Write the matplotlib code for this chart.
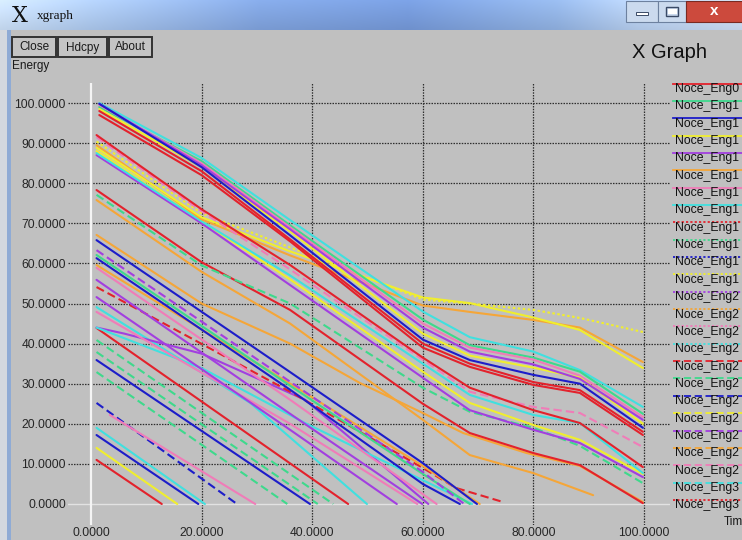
import matplotlib
matplotlib.use("Agg")
import matplotlib.pyplot as plt
import numpy as np
from matplotlib.patches import Rectangle
from matplotlib.colors import to_rgb

# ---------------- data ----------------
x_ticks = [0, 20, 40, 60, 80, 100]
y_ticks = [0, 10, 20, 30, 40, 50, 60, 70, 80, 90, 100]

# top bundle (start near 100)
top_x      = [1.5, 20, 36, 60, 68.5, 80, 88.4, 99.8]
top_cyan   = [100.0, 86.3, 70.8, 48.0, 41.6, 38.0, 33.4, 24.2]
top_green  = [99.0, 85.5, 69.5, 46.0, 39.6, 36.5, 33.0, 22.5]
top_pink   = [99.5, 85.0, 69.0, 45.0, 39.0, 36.0, 32.0, 21.7]
top_purple = [99.8, 84.5, 68.5, 44.0, 38.0, 34.8, 31.2, 21.0]
top_yellow = [98.5, 84.0, 68.0, 42.5, 37.0, 34.0, 31.5, 20.0]
top_blue   = [99.8, 84.0, 67.0, 41.0, 35.9, 32.2, 30.0, 19.0]
top_red_a  = [98.0, 83.0, 66.0, 40.0, 35.0, 30.4, 28.4, 18.0]
top_red_b  = [97.0, 82.0, 65.5, 39.0, 34.2, 29.7, 27.7, 17.2]

# second bundle (start 77-92), reaching x = 100
mid_x        = [1, 20, 36, 60, 68.5, 80, 88.4, 99.8]
mid_red      = [92.0, 73.5, 59.6, 36.5, 29.0, 23.4, 20.2, 9.2]
mid_pink     = [91.5, 73.0, 58.5, 36.0, 28.0, 24.2, 22.7, 14.2]
mid_yellow_a = [90.4, 72.5, 64.0, 51.0, 50.0, 48.4, 46.4, 42.9]
mid_orange   = [89.5, 71.0, 62.0, 49.5, 47.9, 45.9, 44.0, 35.4]
mid_yellow_b = [88.8, 71.5, 63.0, 51.5, 50.1, 46.5, 43.4, 33.9]
mid_cyan     = [87.5, 70.5, 57.0, 35.0, 27.2, 22.2, 20.2, 7.7]
mid_purple   = [87.0, 70.0, 54.6, 31.5, 23.4, 18.5, 15.2, 6.7]
mid_yellow_c = [88.0, 70.5, 56.0, 33.0, 25.2, 19.7, 16.0, 7.5]
mid_green    = [77.1, 59.5, 50.0, 29.0, 23.0, 19.0, 14.5, 5.2]
mid_red_low  = [78.3, 60.3, 48.4, 25.0, 17.7, 12.7, 9.7, 0.2]

# individual lines
c3_x, c3_y = [1, 20, 36, 60, 68.5, 80, 90.8], [75.8, 57.9, 45.0, 21.0, 12.2, 7.7, 2.2]
d1_x, d1_y = [1, 20, 36, 48.6, 60, 67.3, 78.8, 88.4, 99.8], [67.1, 50.0, 40.0, 30.2, 22.7, 17.7, 12.7, 9.5, 0.5]
d7_x, d7_y = [1, 36, 60, 70.3], [59.6, 30.0, 9.5, 0.0]
d3_x, d3_y = [1, 36, 60, 69.8], [65.8, 32.9, 10.2, 0.0]
d4_x, d4_y = [1, 36, 60, 67.5], [63.3, 30.5, 8.0, 0.0]
d5_x, d5_y = [1, 36, 60, 68.5], [62.1, 29.5, 7.5, 0.0]
d6_x, d6_y = [1, 36, 60, 66.7], [61.3, 28.5, 5.0, 0.0]
d8_x, d8_y = [1, 36, 62.5], [58.9, 26.0, 0.0]
d9_x, d9_y = [1, 36, 59.9], [55.9, 22.5, 0.0]
d10_x, d10_y = [1, 36, 60, 66, 74.5], [54.1, 28.0, 9.0, 4.0, 0.5]
e1_x, e1_y = [1, 36, 55.3], [51.6, 18.5, 0.0]
e2_x, e2_y = [1, 36, 59], [47.9, 20.0, 0.0]
e3_x, e3_y = [1, 20, 38.7, 68.9], [44.0, 33.9, 20.2, 0.0]
e4_x, e4_y = [1, 6, 20, 38.7, 61], [44.0, 42.5, 37.5, 26.0, 0.0]
e5_x, e5_y = [1, 28.8, 49.9], [49.1, 25.2, 0.0]

# short straight lines at the bottom-left (start -> 0)
low_x0 = [1, 1, 1, 1, 1, 1, 3.4, 1, 1, 1, 1]
low_y0 = [43.9, 40.9, 37.9, 35.9, 32.9, 25.2, 22.2, 19.0, 17.2, 14.0, 11.0]
low_x1 = [46.5, 43.8, 41.0, 39.6, 35.5, 26.4, 29.7, 20.6, 19.4, 15.6, 12.8]

# legend labels as visible in the (narrow) window
legend_labels = ["Noce_Eng0"] + ["Noce_Eng1"] * 11 + ["Noce_Eng2"] * 11 + ["Noce_Eng3"] * 2

# ---------------- styles ----------------
RED, GREEN, BLUE, YELLOW = '#e3222c', '#3ed98c', '#1d1dc9', '#f0ee2e'
PURPLE, ORANGE, PINK, CYAN = '#a23fe0', '#f5a638', '#f07cb8', '#40e0df'
PALETTE = [RED, GREEN, BLUE, YELLOW, PURPLE, ORANGE, PINK, CYAN]
SOLID, DASH, DOT = '-', (0, (4, 2)), (0, (1.2, 1.2))

W, H = 742, 540
fig = plt.figure(figsize=(W / 100, H / 100), dpi=100)
fig.patch.set_facecolor('#c0c0c0')
FONT = ['Liberation Sans', 'DejaVu Sans']

# main plot axes: px 68..670 horizontally, py 83..525 vertically
ax = fig.add_axes([68 / W, 1 - 525 / H, (670 - 68) / W, (525 - 83) / H])
ax.set_facecolor('none')
ax.set_xlim((68 - 91) / 5.53, (670 - 91) / 5.53)
ax.set_ylim((504 - 525) / 4.01, (504 - 83) / 4.01)
for s in ax.spines.values():
    s.set_visible(False)

for yv in y_ticks[1:]:
    ax.axhline(yv, color='#2e2e2e', lw=0.9, ls=(0, (1.2, 1.0)), zorder=1)
for xv in x_ticks[1:]:
    ax.axvline(xv, color='#2e2e2e', lw=0.9, ls=(0, (1.2, 1.0)), zorder=1)
ax.axhline(0, color='#e2e2e2', lw=1.0, zorder=1)
ax.axvline(0, color='#f4f4f4', lw=1.6, zorder=1)

ax.set_xticks(x_ticks)
ax.set_xticklabels(["%.4f" % v for v in x_ticks])
ax.set_yticks(y_ticks)
ax.set_yticklabels(["%.4f" % v for v in y_ticks])
ax.tick_params(length=0, pad=1.6, labelsize=8.7, labelcolor='#262626')
for lab in ax.get_xticklabels() + ax.get_yticklabels():
    lab.set_family(FONT)

series = []
for (lx0, ly0, lx1, c, ls) in zip(low_x0, low_y0, low_x1,
                                  [RED, GREEN, GREEN, BLUE, GREEN, BLUE, PINK, CYAN, BLUE, YELLOW, RED],
                                  [SOLID, DASH, DASH, SOLID, DASH, DASH, SOLID, SOLID, SOLID, SOLID, SOLID]):
    series.append(([lx0, lx1], [ly0, 0.0], c, ls))
series += [
    (e5_x, e5_y, CYAN, SOLID), (e4_x, e4_y, PURPLE, SOLID), (e3_x, e3_y, CYAN, SOLID),
    (e2_x, e2_y, PINK, SOLID), (e1_x, e1_y, PURPLE, SOLID),
    (d10_x, d10_y, RED, DASH), (d9_x, d9_y, PURPLE, SOLID), (d8_x, d8_y, PINK, SOLID),
    (d7_x, d7_y, ORANGE, SOLID), (d6_x, d6_y, BLUE, SOLID), (d5_x, d5_y, GREEN, SOLID),
    (d4_x, d4_y, PURPLE, DASH), (d3_x, d3_y, BLUE, SOLID),
    (d1_x, d1_y, ORANGE, SOLID), (c3_x, c3_y, ORANGE, SOLID),
    (mid_x, mid_red_low, RED, SOLID), (mid_x, mid_green, GREEN, DASH),
    (mid_x, mid_yellow_c, YELLOW, SOLID), (mid_x, mid_purple, PURPLE, SOLID),
    (mid_x, mid_cyan, CYAN, SOLID), (mid_x, mid_orange, ORANGE, SOLID),
    (mid_x, mid_yellow_b, YELLOW, SOLID), (mid_x, mid_yellow_a, YELLOW, DOT),
    (mid_x, mid_pink, PINK, DASH), (mid_x, mid_red, RED, SOLID),
    (top_x, top_cyan, CYAN, SOLID), (top_x, top_green, GREEN, SOLID),
    (top_x, top_pink, PINK, SOLID), (top_x, top_yellow, YELLOW, SOLID),
    (top_x, top_purple, PURPLE, SOLID), (top_x, top_blue, BLUE, SOLID),
    (top_x, top_red_a, RED, SOLID), (top_x, top_red_b, RED, SOLID),
]
for sx, sy, c, ls in series:
    ax.plot(sx, sy, color=c, lw=1.5, ls=ls, zorder=2, solid_capstyle='round')

# ---------------- window chrome / overlay in pixel coordinates ----------------
ov = fig.add_axes([0, 0, 1, 1], zorder=5)
ov.set_facecolor('none')
ov.axis('off')

def grad(stops, n):
    pos = [p for p, _ in stops]
    cols = np.array([to_rgb(c) for _, c in stops])
    t = np.linspace(0, 1, n)
    return np.stack([np.interp(t, pos, cols[:, k]) for k in range(3)], axis=-1)

row = grad([(0, '#c6daf1'), (0.12, '#a9c4e8'), (0.35, '#7d9fd8'), (0.55, '#7295d3'),
            (0.75, '#8eaedd'), (0.86, '#b3cae9'), (1, '#c8d8ef')], 742)
vert = np.linspace(1.1, 0.97, 30)[:, None, None]
img = np.clip(row[None, :, :] * vert, 0, 1)
ov.imshow(img, extent=(0, 742, 30, 0), aspect='auto', zorder=0)

# left window edge
ov.add_patch(Rectangle((0, 30), 7, 510, facecolor='#d3d8df', edgecolor='none'))
ov.add_patch(Rectangle((7, 30), 4, 510, facecolor='#8fabd5', edgecolor='none'))

ov.text(12, 16, "X", fontsize=16, family=['DejaVu Serif'], va='center', ha='left', color='#111111')
ov.text(37, 16, "xgraph", fontsize=9.5, family=['Liberation Serif', 'DejaVu Serif'],
        va='center', ha='left', color='#111111')

# caption buttons
ov.add_patch(Rectangle((626, 1), 32, 21, facecolor='#cbdaee', edgecolor='#6d819f', lw=0.8))
ov.add_patch(Rectangle((636, 12), 12, 3, facecolor='#ffffff', edgecolor='#3a4a66', lw=0.7))
ov.add_patch(Rectangle((658, 1), 28, 21, facecolor='#cbdaee', edgecolor='#6d819f', lw=0.8))
ov.add_patch(Rectangle((666, 7), 12, 9, facecolor='none', edgecolor='#3a4a66', lw=1.0))
ov.add_patch(Rectangle((667.5, 9), 9, 5, facecolor='#ffffff', edgecolor='none'))
ov.add_patch(Rectangle((686, 1), 58, 21, facecolor='#cc4a3d', edgecolor='#7a2a22', lw=0.8))
ov.text(714, 11, "x", fontsize=11, fontweight='bold', family=FONT, color='white',
        ha='center', va='center')

# xgraph buttons
for bx, bw, lab in [(12, 44, "Close"), (58, 49, "Hdcpy"), (109, 43, "About")]:
    ov.add_patch(Rectangle((bx, 37), bw, 20, facecolor='#c4c4c4', edgecolor='#333333', lw=1.4))
    ov.text(bx + bw / 2, 47.5, lab, fontsize=8.5, family=FONT, ha='center', va='center',
            color='#1a1a1a')

ov.text(12, 66, "Energy", fontsize=8.5, family=FONT, ha='left', va='center', color='#1a1a1a')
ov.text(632, 52, "X Graph", fontsize=14.5, family=FONT, ha='left', va='center', color='#111111')
ov.text(724, 522, "Tim", fontsize=8.5, family=FONT, ha='left', va='center', color='#1a1a1a')

# legend (outside the plot, on the right)
for i, lab in enumerate(legend_labels):
    ty = 89 + 17.35 * i
    col = PALETTE[i % 8]
    ls = [SOLID, DOT, DASH, DOT][i // 8]
    ov.plot([673, 742], [ty - 5.5, ty - 5.5], color=col, lw=1.3, ls=ls)
    ov.text(675, ty, lab, fontsize=8.8, family=FONT, ha='left', va='center', color='#111111')

ov.set_xlim(0, 742)
ov.set_ylim(540, 0)

fig.savefig("out.png", dpi=100, facecolor=fig.get_facecolor())
